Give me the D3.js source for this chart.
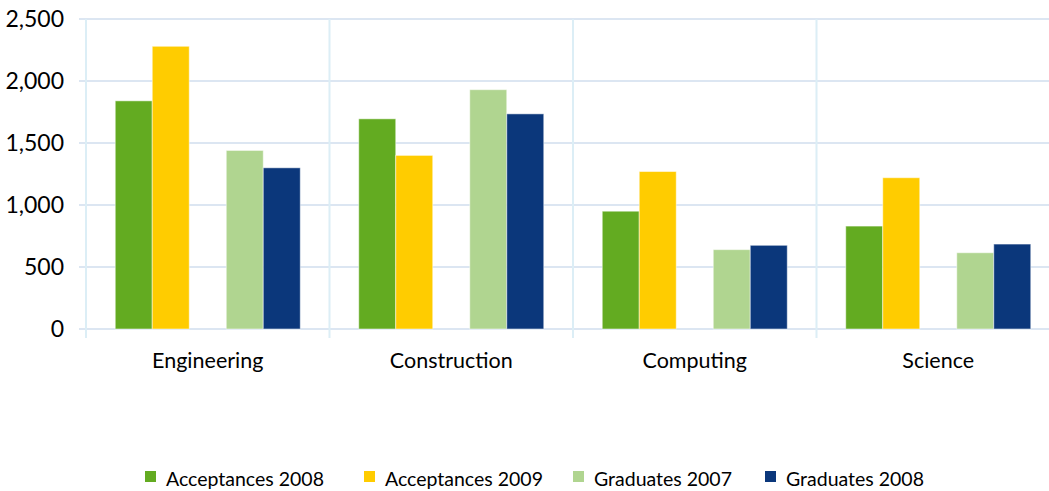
<!DOCTYPE html>
<html>
<head>
<meta charset="utf-8">
<script src="https://cdn.jsdelivr.net/npm/d3@7"></script>
<style>
  body { margin: 0; background: #fff; }
  svg { display: block; font-family: Lato, "Open Sans", sans-serif; }
</style>
</head>
<body>
<svg></svg>
<script>
var width = 1049;
var height = 491;

// data
var categories = ["Engineering", "Construction", "Computing", "Science"];
var seriesNames = ["Acceptances 2008", "Acceptances 2009", "Graduates 2007", "Graduates 2008"];
var acceptances2008 = [1840, 1695, 950, 830];
var acceptances2009 = [2280, 1400, 1270, 1220];
var graduates2007 = [1440, 1930, 640, 615];
var graduates2008 = [1300, 1735, 675, 685];
var yTicks = [0, 500, 1000, 1500, 2000, 2500];

var colors = ["#63ab21", "#ffcc00", "#b0d590", "#0b377b"];
var seriesValues = [acceptances2008, acceptances2009, graduates2007, graduates2008];

// slots inside a category: the middle one is left empty
var slots = ["s0", "s1", "gap", "s2", "s3"];

var plotLeft = 86, plotRight = 1060, plotTop = 19, plotBottom = 329;

var svg = d3.select("svg")
    .attr("width", width)
    .attr("height", height);

var x = d3.scaleBand()
    .domain(categories)
    .range([plotLeft, plotRight]);

var xInner = d3.scaleBand()
    .domain(slots)
    .range([0, x.bandwidth()])
    .paddingOuter(0.79)
    .paddingInner(0);

var y = d3.scaleLinear()
    .domain([0, 2500])
    .range([plotBottom, plotTop]);

// horizontal gridlines
svg.append("g")
    .selectAll("line")
    .data(yTicks)
    .enter().append("line")
    .attr("x1", plotLeft - 7)
    .attr("x2", plotRight)
    .attr("y1", function(d) { return y(d); })
    .attr("y2", function(d) { return y(d); })
    .attr("stroke", "#dce6f2")
    .attr("stroke-width", 2);

// vertical gridlines at category boundaries
var bounds = categories.map(function(c) { return x(c); }).concat([plotRight]);
svg.append("g")
    .selectAll("line")
    .data(bounds)
    .enter().append("line")
    .attr("x1", function(d) { return d; })
    .attr("x2", function(d) { return d; })
    .attr("y1", plotTop)
    .attr("y2", plotBottom + 9)
    .attr("stroke", "#dceef6")
    .attr("stroke-width", 2);

// y labels
svg.append("g")
    .selectAll("text")
    .data(yTicks)
    .enter().append("text")
    .attr("x", 64)
    .attr("y", function(d) { return y(d); })
    .attr("dy", "0.36em")
    .attr("text-anchor", "end")
    .style("font-size", "23px")
    .style("fill", "#000")
    .text(function(d) { return d3.format(",")(d); });

// bars
var slotFor = ["s0", "s1", "s2", "s3"];
seriesValues.forEach(function(vals, si) {
    svg.append("g")
        .selectAll("rect")
        .data(vals)
        .enter().append("rect")
        .attr("x", function(d, i) { return x(categories[i]) + xInner(slotFor[si]); })
        .attr("width", xInner.bandwidth())
        .attr("y", function(d) { return y(d); })
        .attr("height", function(d) { return plotBottom - y(d); })
        .attr("fill", colors[si])
        .attr("stroke", "#fff")
        .attr("stroke-opacity", 0.5)
        .attr("stroke-width", 1);
});

// category labels
svg.append("g")
    .selectAll("text")
    .data(categories)
    .enter().append("text")
    .attr("x", function(d) { return x(d) + x.bandwidth() / 2; })
    .attr("y", 368)
    .attr("text-anchor", "middle")
    .style("font-size", "21.5px")
    .style("fill", "#000")
    .text(function(d) { return d; });

// legend
var legendX = [145, 364, 573, 765];
var legend = svg.append("g");
seriesNames.forEach(function(name, i) {
    legend.append("rect")
        .attr("x", legendX[i])
        .attr("y", 471)
        .attr("width", 11)
        .attr("height", 11)
        .attr("fill", colors[i]);
    legend.append("text")
        .attr("x", legendX[i] + 21)
        .attr("y", 486)
        .style("font-size", "19.5px")
        .style("fill", "#000")
        .text(name);
});
</script>
</body>
</html>
